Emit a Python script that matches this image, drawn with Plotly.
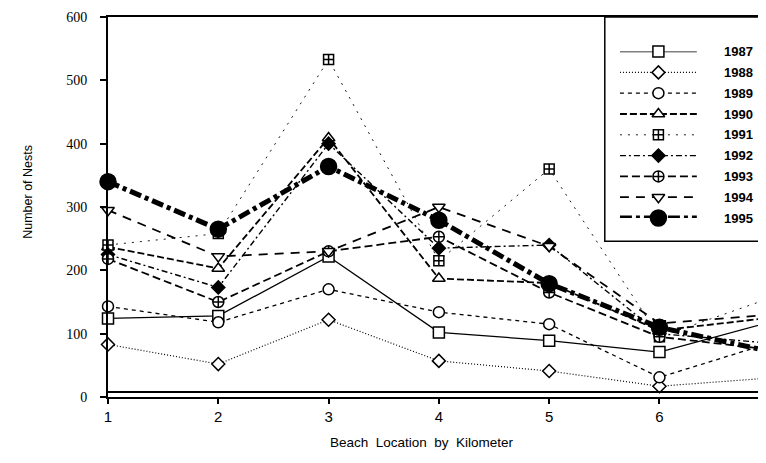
import plotly.graph_objects as go

km = [1, 2, 3, 4, 5, 6, 7]
years = ["1987", "1988", "1989", "1990", "1991", "1992", "1993", "1994", "1995"]
n1987 = [124, 128, 222, 102, 89, 71, 118]
n1988 = [83, 52, 122, 57, 41, 17, 30]
n1989 = [143, 118, 170, 134, 115, 31, 85]
n1990 = [237, 203, 409, 187, 180, 105, 125]
n1991 = [240, 258, 533, 215, 360, 95, 156]
n1992 = [225, 173, 400, 235, 240, 100, 85]
n1993 = [218, 150, 230, 253, 165, 95, 75]
n1994 = [295, 222, 230, 300, 238, 116, 130]
n1995 = [340, 265, 364, 279, 179, 110, 72]
series = [n1987, n1988, n1989, n1990, n1991, n1992, n1993, n1994, n1995]
y_ticks = [0, 100, 200, 300, 400, 500, 600]
x_ticks = [1, 2, 3, 4, 5, 6, 7]

styles = [
    dict(dash="solid", width=1.3, symbol="square", size=11, fill="white"),
    dict(dash="1px,2px", width=1.2, symbol="diamond", size=10, fill="white"),
    dict(dash="4px,4px", width=1.3, symbol="circle", size=11, fill="white"),
    dict(dash="7px,3px", width=1.8, symbol="triangle-up", size=11, fill="white"),
    dict(dash="2px,6px", width=0.9, symbol="square-cross", size=10, fill="white"),
    dict(dash="6px,3px,2px,3px", width=1.4, symbol="diamond", size=10, fill="black"),
    dict(dash="8px,4px", width=1.8, symbol="circle-cross", size=11, fill="white"),
    dict(dash="9px,7px", width=1.8, symbol="triangle-down", size=11, fill="white"),
    dict(dash="12px,4px,4px,4px", width=5, symbol="circle", size=16, fill="black"),
]

fig = go.Figure()
for yr, vals, st in zip(years, series, styles):
    fig.add_trace(go.Scatter(
        x=km, y=vals, mode="lines+markers", name=yr, cliponaxis=False,
        line=dict(color="black", width=st["width"], dash=st["dash"]),
        marker=dict(symbol=st["symbol"], size=st["size"], color=st["fill"],
                    line=dict(color="black", width=1.5)),
        showlegend=False,
    ))

# custom legend on auxiliary axes
for i, (yr, st) in enumerate(zip(years, styles)):
    fig.add_trace(go.Scatter(
        x=[0, 1], y=[i, i], mode="lines", xaxis="x2", yaxis="y2", cliponaxis=False,
        line=dict(color="black", width=st["width"], dash=st["dash"]), showlegend=False,
        hoverinfo="skip"))
    fig.add_trace(go.Scatter(
        x=[0.5], y=[i], mode="markers", xaxis="x2", yaxis="y2", cliponaxis=False,
        marker=dict(symbol=st["symbol"], size=st["size"], color=st["fill"],
                    line=dict(color="black", width=1.5)), showlegend=False,
        hoverinfo="skip"))
    fig.add_annotation(x=0.933, xref="paper", y=i, yref="y2", text="<b>%s</b>" % yr,
                       showarrow=False, xanchor="left",
                       font=dict(family="Liberation Sans", size=13, color="black"))

fig.add_shape(type="rect", xref="paper", yref="paper", x0=0.755, x1=1.05, y0=0.41, y1=1.0,
              line=dict(color="black", width=1.5), fillcolor="white", layer="below")
fig.add_shape(type="line", xref="paper", yref="y", x0=0, x1=1, y0=8, y1=8,
              line=dict(color="black", width=2))

fig.add_annotation(x=-0.1216, xref="paper", y=0.54, yref="paper", text="Number of Nests",
                   textangle=-90, showarrow=False, xanchor="center", yanchor="middle",
                   font=dict(family="Liberation Sans", size=12.5, color="black"))
fig.add_annotation(x=0.477, xref="paper", y=-0.121, yref="paper",
                   text="Beach\u00a0\u00a0Location\u00a0\u00a0by\u00a0\u00a0Kilometer",
                   showarrow=False, xanchor="center", yanchor="middle",
                   font=dict(family="Liberation Sans", size=13.5, color="black"))

fig.update_layout(
    width=758, height=455, autosize=False,
    margin=dict(l=100, r=0, t=9, b=66),
    plot_bgcolor="white", paper_bgcolor="white",
    xaxis=dict(range=[1, 6.966], tickvals=x_ticks, showgrid=False, zeroline=False,
               showline=True, linecolor="black", linewidth=2, mirror=True,
               ticks="outside", ticklen=5, tickcolor="black", tickwidth=1.5,
               tickfont=dict(family="Liberation Sans", size=15, color="black")),
    yaxis=dict(range=[0, 600], tickvals=y_ticks, showgrid=False, zeroline=False,
               showline=True, linecolor="black", linewidth=2,
               ticks="outside", ticklen=6, tickcolor="black", tickwidth=1.5,
               ticklabelstandoff=10,
               tickfont=dict(family="Liberation Serif", size=14, color="black")),
    xaxis2=dict(domain=[0.778, 0.895], range=[0, 1], visible=False, anchor="y2"),
    yaxis2=dict(domain=[0.471, 0.909], range=[8, 0], visible=False, anchor="x2"),
)

fig.write_html("out.html")
